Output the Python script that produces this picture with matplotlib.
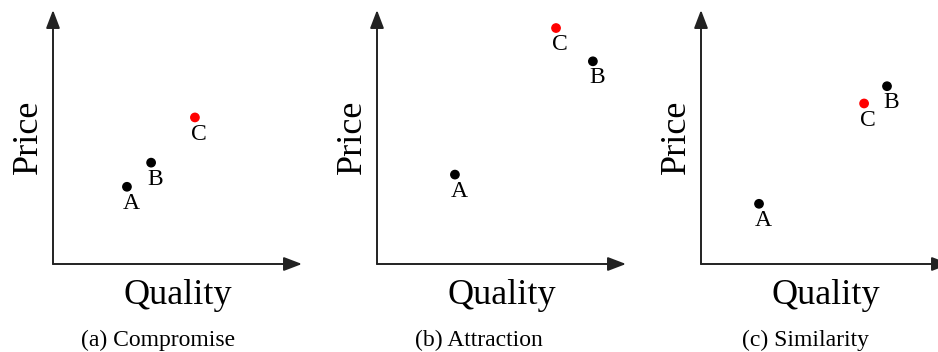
#!/usr/bin/env python3

"""Three decoy-effect sketches: compromise, attraction, similarity."""

import matplotlib
matplotlib.use('Agg')
import matplotlib.pyplot as plt

plt.rcParams['font.family'] = ['Liberation Serif', 'DejaVu Serif']

# Quality / price of the options in each panel (axis runs 0..1)
captions = ['(a) Compromise', '(b) Attraction', '(c) Similarity']
names = ['A', 'B', 'C']
quality = [
    [0.297, 0.394, 0.570],
    [0.313, 0.867, 0.719],
    [0.233, 0.747, 0.655],
]
price = [
    [0.304, 0.399, 0.577],
    [0.352, 0.798, 0.929],
    [0.237, 0.700, 0.632],
]
colors = ['black', 'black', 'red']

fig = plt.figure(figsize=(9.38, 3.52), dpi=100)

W, H = 938.0, 352.0
lefts = [53, 377, 701]
caption_x = [0.42, 0.41, 0.42]

for i in range(3):
    ax = fig.add_axes([lefts[i] / W, 88 / H, 249 / W, 254 / H])
    ax.set_xlim(0, 1)
    ax.set_ylim(0, 1)
    ax.axis('off')

    # axis arrows
    arrow = dict(arrowstyle='-|>,head_length=1.1,head_width=0.42',
                 color='#222222', lw=1.4, mutation_scale=10,
                 shrinkA=0, shrinkB=0)
    ax.annotate('', xy=(0, 1), xytext=(0, 0), xycoords='axes fraction',
                arrowprops=arrow, annotation_clip=False)
    ax.annotate('', xy=(1, 0), xytext=(0, 0), xycoords='axes fraction',
                arrowprops=arrow, annotation_clip=False)

    ax.text(0.5, -0.125, 'Quality', transform=ax.transAxes,
            ha='center', va='center', fontsize=26)
    ax.text(-0.10, 0.5, 'Price', transform=ax.transAxes, rotation=90,
            ha='center', va='center', fontsize=26)
    ax.text(caption_x[i], -0.30, captions[i], transform=ax.transAxes,
            ha='center', va='center', fontsize=17)

    ax.scatter(quality[i], price[i], c=colors, s=36, zorder=3,
               clip_on=False)
    for n, x, y in zip(names, quality[i], price[i]):
        ax.annotate(n, (x, y), xytext=(3, -12), textcoords='offset points',
                    ha='center', va='center', fontsize=17)

plt.savefig('out.png', dpi=100)
